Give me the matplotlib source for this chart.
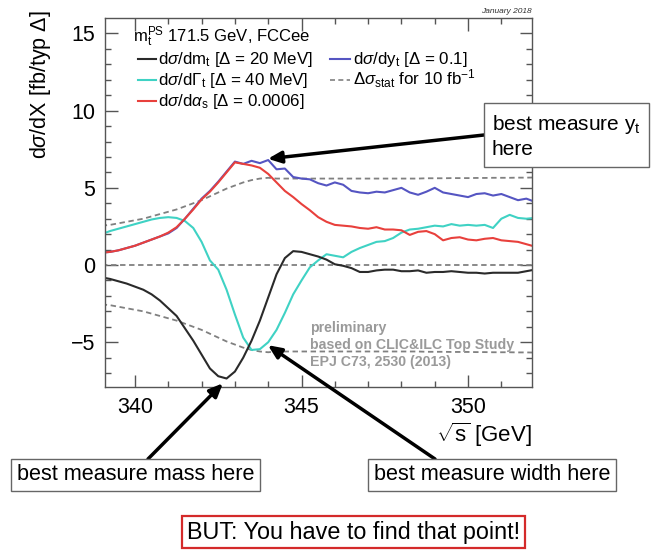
import matplotlib
matplotlib.use("Agg")
import matplotlib.pyplot as plt
from matplotlib.lines import Line2D

plt.rcParams['font.family'] = ['Liberation Sans', 'DejaVu Sans']
plt.rcParams['mathtext.fontset'] = 'custom'
plt.rcParams['mathtext.rm'] = 'Liberation Sans'
plt.rcParams['mathtext.it'] = 'Liberation Sans:italic'
plt.rcParams['mathtext.bf'] = 'Liberation Sans:bold'

# ---------------- data ----------------
sqrt_s = [339.0, 339.25, 339.5, 339.75, 340.0, 340.25, 340.5, 340.75,
          341.0, 341.25, 341.5, 341.75, 342.0, 342.25, 342.5, 342.75,
          343.0, 343.25, 343.5, 343.75, 344.0, 344.25, 344.5, 344.75,
          345.0, 345.25, 345.5, 345.75, 346.0, 346.25, 346.5, 346.75,
          347.0, 347.25, 347.5, 347.75, 348.0, 348.25, 348.5, 348.75,
          349.0, 349.25, 349.5, 349.75, 350.0, 350.25, 350.5, 350.75,
          351.0, 351.25, 351.5, 351.75, 352.0]

d_mt = [-0.8, -0.9, -1.05, -1.2, -1.4, -1.6, -1.9, -2.3,
        -2.8, -3.3, -4.1, -4.9, -5.8, -6.7, -7.2, -7.35,
        -6.9, -6.0, -4.9, -3.6, -2.1, -0.6, 0.45, 0.9,
        0.85, 0.7, 0.55, 0.35, 0.05, -0.05, -0.2, -0.45,
        -0.45, -0.35, -0.3, -0.3, -0.4, -0.4, -0.35, -0.5,
        -0.45, -0.45, -0.4, -0.45, -0.5, -0.5, -0.55, -0.5,
        -0.5, -0.5, -0.5, -0.4, -0.3]

d_gt = [2.0, 2.2, 2.35, 2.5, 2.65, 2.8, 2.95, 3.05,
        3.1, 3.05, 2.85, 2.4, 1.5, 0.3, -0.3, -1.6,
        -3.2, -4.7, -5.5, -5.45, -5.0, -4.2, -3.1, -1.9,
        -1.0, -0.15, 0.3, 0.7, 0.6, 0.5, 0.85, 1.1,
        1.3, 1.5, 1.55, 1.75, 2.1, 2.3, 2.35, 2.45,
        2.55, 2.5, 2.65, 2.55, 2.6, 2.55, 2.6, 2.4,
        3.0, 3.25, 3.05, 3.0, 3.05]

d_as = [0.8, 0.85, 0.95, 1.1, 1.25, 1.45, 1.65, 1.85,
        2.1, 2.45, 3.0, 3.6, 4.25, 4.75, 5.35, 6.0,
        6.65, 6.55, 6.45, 6.3, 5.9, 5.35, 4.8, 4.4,
        3.95, 3.55, 3.1, 2.8, 2.6, 2.55, 2.5, 2.4,
        2.35, 2.45, 2.3, 2.3, 2.25, 1.95, 2.15, 2.2,
        2.0, 1.6, 1.75, 1.8, 1.65, 1.6, 1.7, 1.75,
        1.6, 1.55, 1.5, 1.35, 1.2]

d_yt = [0.8, 0.85, 0.95, 1.1, 1.25, 1.45, 1.65, 1.85,
        2.05, 2.4, 3.0, 3.65, 4.3, 4.8, 5.4, 6.05,
        6.7, 6.55, 6.75, 6.6, 6.8, 6.2, 6.25, 5.7,
        5.6, 5.55, 5.3, 5.15, 5.35, 5.2, 4.8, 4.7,
        4.65, 4.75, 4.7, 4.85, 5.0, 4.7, 4.55, 4.75,
        5.0, 4.7, 4.6, 4.5, 4.4, 4.6, 4.65, 4.5,
        4.6, 4.4, 4.2, 4.3, 4.1]

d_stat = [2.55, 2.6, 2.7, 2.8, 2.9, 3.0, 3.15, 3.3,
          3.45, 3.6, 3.8, 4.0, 4.2, 4.45, 4.7, 4.95,
          5.15, 5.35, 5.5, 5.6, 5.65, 5.6, 5.6, 5.6,
          5.6, 5.6, 5.6, 5.6, 5.6, 5.6, 5.6, 5.6,
          5.6, 5.6, 5.6, 5.6, 5.6, 5.6, 5.6, 5.62,
          5.62, 5.62, 5.63, 5.63, 5.63, 5.64, 5.64, 5.65,
          5.65, 5.65, 5.66, 5.66, 5.67]
zero_line = [0.0] * len(sqrt_s)
neg_stat = [-v for v in d_stat]

labels = [r"d$\sigma$/dm$_\mathregular{t}$ [$\Delta$ = 20 MeV]",
          r"d$\sigma$/d$\Gamma_\mathregular{t}$ [$\Delta$ = 40 MeV]",
          r"d$\sigma$/d$\alpha_\mathregular{s}$ [$\Delta$ = 0.0006]",
          r"d$\sigma$/dy$_\mathregular{t}$ [$\Delta$ = 0.1]",
          r"$\Delta\sigma_\mathregular{stat}$ for 10 fb$^\mathregular{-1}$"]
x_ticks = [340, 345, 350]
y_ticks = [-5, 0, 5, 10, 15]

# ---------------- figure ----------------
W, H = 651, 556
fig = plt.figure(figsize=(W / 100, H / 100), dpi=100)
fig.patch.set_facecolor('white')

def fx(px):
    return px / W

def fy(py):
    return 1 - py / H

AX_L, AX_R, AX_T, AX_B = 105, 532, 18, 387
ax = fig.add_axes([fx(AX_L), fy(AX_B), fx(AX_R) - fx(AX_L), fy(AX_T) - fy(AX_B)])

def axx(px):
    return (px - AX_L) / (AX_R - AX_L)

def axy(py):
    return (AX_B - py) / (AX_B - AX_T)

c_black = '#2a2a2a'
c_cyan = '#3fd2c4'
c_red = '#e8403c'
c_blue = '#5555c2'
c_dash = '#808080'
dash = (0, (3, 2))

lw = 1.5
ax.plot(sqrt_s, zero_line, color=c_dash, lw=1.3, ls=dash)
ax.plot(sqrt_s, d_stat, color=c_dash, lw=1.3, ls=dash)
ax.plot(sqrt_s, neg_stat, color=c_dash, lw=1.3, ls=dash)
ax.plot(sqrt_s, d_gt, color=c_cyan, lw=lw)
ax.plot(sqrt_s, d_yt, color=c_blue, lw=lw)
ax.plot(sqrt_s, d_as, color=c_red, lw=lw)
ax.plot(sqrt_s, d_mt, color=c_black, lw=lw)

ax.set_xlim(339.1, 351.92)
ax.set_ylim(-7.9, 16.0)
ax.set_xticks(x_ticks)
ax.set_yticks(y_ticks)
ax.set_xticks([x for x in range(340, 352)], minor=True)
ax.set_yticks([y for y in range(-7, 16)], minor=True)
ax.tick_params(which='both', direction='in', top=True, right=True,
               labelsize=15.5, colors='#555555', labelcolor='black')
ax.tick_params(which='major', length=9, width=1, pad=7)
ax.tick_params(which='minor', length=4.5, width=1)
for sp in ax.spines.values():
    sp.set_color('#555555')
    sp.set_linewidth(1.0)

ax.set_xlabel(r"$\mathregular{\sqrt{s}}$ [GeV]", fontsize=16, loc='right')
ax.xaxis.set_label_coords(1.0, -0.09)
ax.set_ylabel(r"d$\sigma$/dX [fb/typ $\Delta$]", fontsize=15.5, loc='top')
ax.yaxis.set_label_coords(-0.122, 1.02)

# legend (ROOT style, placed by hand)
ax.text(axx(133), axy(37), r"m$_\mathregular{t}^\mathregular{PS}$ 171.5 GeV, FCCee",
        transform=ax.transAxes, fontsize=12, va='center', ha='left')
legend_entries = [
    (labels[0], c_black, '-', 138, 156, 158, 59),
    (labels[1], c_cyan, '-', 138, 156, 158, 80),
    (labels[2], c_red, '-', 138, 156, 158, 101),
    (labels[3], c_blue, '-', 330, 350, 353, 59),
    (labels[4], c_dash, dash, 330, 350, 353, 80),
]
for lab, col, ls, x0, x1, xt, yrow in legend_entries:
    key = Line2D([axx(x0), axx(x1)], [axy(yrow), axy(yrow)], color=col,
                 lw=1.5 if ls == '-' else 1.2, ls=ls, transform=ax.transAxes)
    ax.add_line(key)
    ax.text(axx(xt), axy(yrow + 5), lab, transform=ax.transAxes,
            fontsize=12.2, va='baseline', ha='left')

ax.text(1.0, 1.008, "January 2018", transform=ax.transAxes, fontsize=6,
        style='italic', ha='right', va='bottom', color='#333333')

ax.text(axx(310), axy(345), "preliminary\nbased on CLIC&ILC Top Study\nEPJ C73, 2530 (2013)",
        transform=ax.transAxes, fontsize=10.2, color='#9a9a9a',
        fontweight='bold', ha='left', va='center', linespacing=1.25)

# ---------------- annotation boxes & arrows ----------------
box = dict(boxstyle='square,pad=0.25', fc='white', ec='#666666', lw=1)
fig.text(fx(492), fy(136), "best measure y$_\\mathregular{t}$\nhere", fontsize=15,
         ha='left', va='center', linespacing=1.25,
         bbox=dict(boxstyle='square,pad=0.4', fc='white', ec='#666666', lw=1))
fig.text(fx(135.5), fy(475), "best measure mass here", fontsize=15.6,
         ha='center', va='center', bbox=box)
fig.text(fx(492), fy(475), "best measure width here", fontsize=15.6,
         ha='center', va='center', bbox=box)
fig.text(fx(353.5), fy(532), "BUT: You have to find that point!", fontsize=16.8,
         ha='center', va='center',
         bbox=dict(boxstyle='square,pad=0.2', fc='white', ec='#d42a2a', lw=1.6))

arrow_kw = dict(arrowstyle='-|>,head_length=0.8,head_width=0.35', color='black',
                lw=2.5, shrinkA=0, shrinkB=0)
ax.annotate("", xy=(343.99, 6.88), xycoords='data',
            xytext=(fx(484), fy(135)), textcoords='figure fraction',
            arrowprops=arrow_kw, annotation_clip=False)
ax.annotate("", xy=(342.64, -7.66), xycoords='data',
            xytext=(fx(148), fy(459)), textcoords='figure fraction',
            arrowprops=arrow_kw, annotation_clip=False)
ax.annotate("", xy=(343.99, -5.19), xycoords='data',
            xytext=(fx(435), fy(459)), textcoords='figure fraction',
            arrowprops=arrow_kw, annotation_clip=False)

fig.savefig("out.png", dpi=100, facecolor='white')
